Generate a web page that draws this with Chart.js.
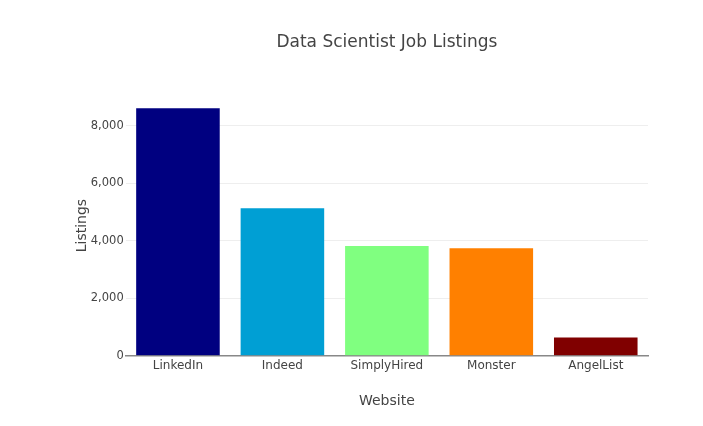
<!DOCTYPE html>
<html>
<head>
<meta charset="utf-8">
<script src="https://cdn.jsdelivr.net/npm/chart.js@4"></script>
<style>
  html, body { margin: 0; padding: 0; background: #fff; }
  #chart { display: block; }
</style>
</head>
<body>
<canvas id="chart" width="703" height="426"></canvas>
<script>
var websites = ['LinkedIn', 'Indeed', 'SimplyHired', 'Monster', 'AngelList'];
var listings = [8600, 5125, 3815, 3735, 640];
var barColors = ['rgb(0,0,128)', 'rgb(0,159,212)', 'rgb(128,255,128)', 'rgb(255,128,0)', 'rgb(128,0,0)'];
var yTicks = [0, 2000, 4000, 6000, 8000];
var yMax = 9050;

var fontFamily = "'DejaVu Sans', Verdana, sans-serif";
var textColor = '#444';

var canvas = document.getElementById('chart');
var ctx = canvas.getContext('2d');

var chart = new Chart(ctx, {
    type: 'bar',
    data: {
        labels: websites,
        datasets: [{
            data: listings,
            backgroundColor: barColors,
            borderWidth: 0,
            categoryPercentage: 0.8,
            barPercentage: 1.0
        }]
    },
    options: {
        responsive: false,
        animation: false,
        events: [],
        layout: {
            padding: { left: 74, right: 55, top: 0, bottom: 12 }
        },
        plugins: {
            legend: { display: false },
            tooltip: { enabled: false },
            title: {
                display: true,
                fullSize: false,
                text: 'Data Scientist Job Listings',
                color: textColor,
                font: { family: fontFamily, size: 17, weight: 'normal' },
                padding: { top: 32, bottom: 43 }
            }
        },
        scales: {
            x: {
                grid: { display: false, drawTicks: false },
                border: { display: true, color: '#888', width: 1.5 },
                ticks: {
                    color: textColor,
                    font: { family: fontFamily, size: 12 },
                    padding: 3,
                    maxRotation: 0
                },
                title: {
                    display: true,
                    text: 'Website',
                    color: textColor,
                    font: { family: fontFamily, size: 14 },
                    padding: { top: 17, bottom: 4 }
                }
            },
            y: {
                min: 0,
                max: yMax,
                grid: { color: '#eee', drawTicks: false },
                border: { display: false },
                afterBuildTicks: function (axis) {
                    axis.ticks = yTicks.map(function (v) { return { value: v }; });
                },
                ticks: {
                    color: textColor,
                    font: { family: fontFamily, size: 11.5 },
                    padding: 2,
                    callback: function (v) { return v.toLocaleString('en-US'); }
                },
                title: {
                    display: true,
                    text: 'Listings',
                    color: textColor,
                    font: { family: fontFamily, size: 14 },
                    padding: { top: 0, bottom: -2 }
                }
            }
        }
    }
});
</script>
</body>
</html>
